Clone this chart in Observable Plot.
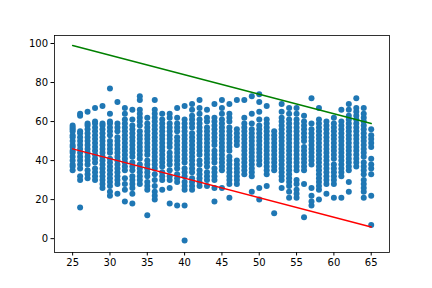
<!DOCTYPE html>
<html>
<head>
<meta charset="utf-8">
<script src="https://cdn.jsdelivr.net/npm/d3@7"></script>
<script src="https://cdn.jsdelivr.net/npm/@observablehq/plot@0.6"></script>
<style>
  html, body { margin: 0; padding: 0; background: #fff; }
</style>
</head>
<body>
<div id="chart"></div>
<script>
const ages = [25,26,27,28,29,30,31,32,33,34,35,36,37,38,39,40,41,42,43,44,45,46,47,48,49,50,51,52,53,54,55,56,57,58,59,60,61,62,63,64,65];
const scores = [
  [35,37,38,40,42,44,45,47,48,50,52,53,55,56,57,58],
  [16,30,32,36,38,40,42,44,46,48,50,52,54,55,63,64],
  [31,33,35,38,40,42,44,46,48,50,52,54,56,58,59,65],
  [30,32,34,36,39,41,43,45,47,49,51,53,55,57,59,60,67],
  [26,28,30,32,34,36,38,40,42,44,46,48,50,52,54,56,58,59,68],
  [22,24,27,29,31,33,35,37,39,41,44,46,48,50,53,55,57,59,60,64,77],
  [23,28,30,32,34,36,38,40,42,44,46,48,50,52,55,57,59,70],
  [19,25,28,31,35,37,39,41,43,45,47,49,51,53,55,57,59,61,64,67],
  [18,23,26,28,30,32,35,37,39,42,44,46,48,50,52,54,56,58,61,66],
  [28,30,32,34,36,38,41,43,45,47,49,51,53,55,58,60,62,64,66,71,73],
  [12,25,27,29,32,34,36,38,40,43,45,47,49,51,53,55,57,59,62],
  [20,22,24,27,30,33,36,38,40,42,44,46,48,50,52,54,56,58,60,62,64,66,71],
  [25,30,32,34,37,39,41,43,45,47,49,51,53,55,57,59,61,64],
  [18,26,30,32,35,38,40,42,44,47,49,51,53,55,57,59,62,64],
  [17,29,31,33,36,38,40,42,44,46,48,50,52,55,57,59,62,67],
  [-1,17,25,27,29,32,34,36,39,41,43,45,47,49,51,53,55,57,59,61,68],
  [25,27,29,31,34,36,38,40,42,44,46,48,50,52,54,57,59,61,63,66,69],
  [27,29,31,33,35,38,40,43,45,47,49,51,53,55,57,59,61,64,67,71],
  [27,30,32,34,37,39,41,43,45,47,49,51,53,55,57,60,62,66],
  [19,26,30,32,34,36,39,41,43,45,48,50,52,54,56,58,60,62,69],
  [26,35,37,39,41,43,45,47,49,51,53,55,57,59,61,64,67,71],
  [21,28,30,32,34,36,38,40,42,45,47,49,51,53,55,57,60,62,64,69],
  [28,30,32,34,36,38,40,48,50,52,54,56,71],
  [33,35,37,39,41,43,45,47,49,51,53,55,57,59,62,71],
  [24,32,34,36,38,40,42,44,46,48,50,52,54,56,59,64,73],
  [20,26,38,40,42,44,46,48,50,52,54,56,58,61,65,70,74],
  [27,33,35,37,39,41,43,45,47,49,51,53,55,57,59,61,68],
  [13,35,37,39,41,43,45,47,49,51,53,55],
  [26,30,32,34,36,38,40,42,44,46,48,50,52,54,56,58,60,62,65,69],
  [21,24,27,29,31,33,35,37,39,41,43,45,47,49,51,53,55,57,59,61,64,67],
  [21,23,25,28,30,35,37,39,41,43,45,47,49,51,53,55,57,59,61,64,67],
  [11,28,35,37,39,41,43,45,47,50,52,54,56,58,60,63],
  [17,19,22,26,38,40,42,44,46,48,50,52,54,56,59,72],
  [20,25,27,29,31,33,35,37,39,41,43,45,47,49,51,53,55,57,59,61,67],
  [23,28,30,32,34,36,38,40,42,44,46,48,50,52,54,56,58,60],
  [21,28,30,32,34,36,38,41,43,45,47,49,51,53,55,57,59,62],
  [21,32,34,36,38,40,42,44,46,48,50,52,54,56,58,60,66],
  [24,29,35,37,39,41,43,45,47,49,51,53,55,57,59,61,63,66,69],
  [37,39,41,43,45,47,49,51,53,55,57,59,61,63,65,67,72],
  [21,24,26,28,30,33,35,37,39,42,44,46,48,50,52,54,56,58,60,62,64,67],
  [7,22,33,36,38,41,47,49,51,53,56]
];
const lineX = [25, 65];
const upperY = [99, 59];
const lowerY = [46, 6];
const xTicks = [25,30,35,40,45,50,55,60,65];
const yTicks = [0,20,40,60,80,100];

const points = ages.flatMap((a, i) => scores[i].map(v => ({age: a, score: v})));
const upper = lineX.map((x, i) => ({x, y: upperY[i]}));
const lower = lineX.map((x, i) => ({x, y: lowerY[i]}));

const chart = Plot.plot({
  width: 432,
  height: 288,
  marginLeft: 54,
  marginRight: 43,
  marginTop: 35,
  marginBottom: 36,
  style: {fontFamily: "DejaVu Sans", fontSize: "10px", color: "#000", background: "#fff"},
  x: {domain: [22.57, 67.45]},
  y: {domain: [-7.1, 104.1]},
  marks: [
    Plot.dot(points, {x: "age", y: "score", r: 3, fill: "#1f77b4", stroke: "none"}),
    Plot.line(upper, {x: "x", y: "y", stroke: "green", strokeWidth: 1.5}),
    Plot.line(lower, {x: "x", y: "y", stroke: "red", strokeWidth: 1.5}),
    Plot.axisX({ticks: xTicks, tickSize: 3.5, tickPadding: 3, fontSize: 10, label: null, tickFormat: d => String(d)}),
    Plot.axisY({ticks: yTicks, tickSize: 3.5, tickPadding: 3, fontSize: 10, label: null, tickFormat: d => String(d)}),
    Plot.frame({stroke: "#000", strokeWidth: 0.8})
  ]
});
document.getElementById("chart").appendChild(chart);
</script>
</body>
</html>
